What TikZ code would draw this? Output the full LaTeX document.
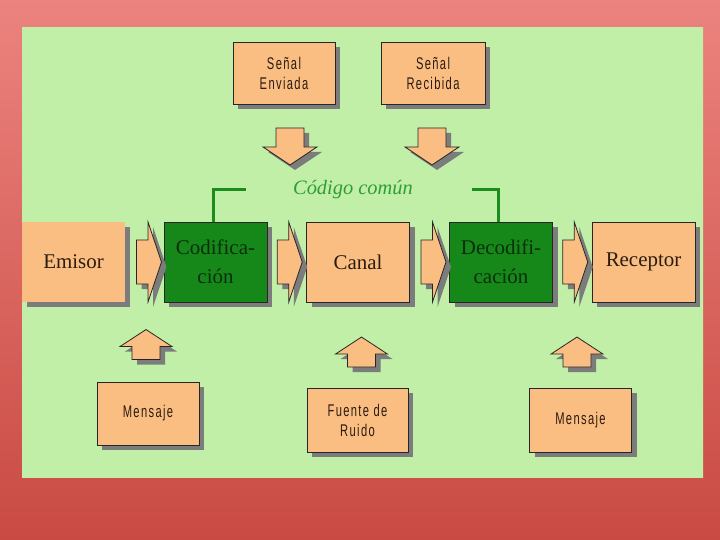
\documentclass[tikz,border=0pt]{standalone}
\usepackage{fontspec}
\setmainfont{Liberation Serif}
\newfontfamily\narrowsf[FakeStretch=0.66,LetterSpace=8]{Liberation Sans}
\usetikzlibrary{shadows,calc}
\definecolor{orng}{HTML}{FBBE82}
\definecolor{grnbox}{HTML}{16881A}
\definecolor{shd}{HTML}{7C7C7C}
\definecolor{txtgreen}{HTML}{2E9E33}
\definecolor{lingreen}{HTML}{1C8C1C}
\definecolor{darktxt}{HTML}{2A1C10}
\definecolor{darkgrntxt}{HTML}{0B2E0B}
\definecolor{redtop}{HTML}{EC837E}
\definecolor{redbot}{HTML}{C94A43}
\definecolor{pnledge}{HTML}{D2E8CC}
\definecolor{pnlmid}{HTML}{C2EFA8}
\pgfdeclarehorizontalshading{pnlshade}{100bp}{color(0bp)=(pnledge); color(12bp)=(pnlmid); color(88bp)=(pnlmid); color(100bp)=(pnledge)}
\begin{document}
\begin{tikzpicture}[x=1bp,y=-1bp,
  shad/.style={drop shadow={shadow xshift=5bp,shadow yshift=-5bp,fill=shd,opacity=1}},
  bigbox/.style={draw=black!85,line width=0.9bp,fill=orng,shad,minimum width=103bp,minimum height=80bp,
     inner sep=0pt,align=center,text=darktxt,font=\fontsize{21}{29}\selectfont},
  codebox/.style={bigbox,fill=grnbox,text=darkgrntxt},
  smallbox/.style={draw=black!85,line width=0.9bp,fill=orng,shad,minimum width=102bp,minimum height=63bp,
     inner sep=0pt,align=center,text=darktxt,font=\narrowsf\fontsize{17}{20}\selectfont},
  blockarrow/.style={draw=black!85,line width=0.8bp,fill=orng,shad,line join=miter},
  greenline/.style={draw=lingreen,line width=3bp},
  rblock/.pic={\draw[blockarrow] (-12.5,-22) -- (-1,-22) -- (-1,-40) -- (12.5,0) -- (-1,40) -- (-1,22) -- (-12.5,22) -- cycle;},
  dblock/.pic={\draw[blockarrow] (-14,-18.5) -- (14,-18.5) -- (14,0.5) -- (27,0.5) -- (0,18.5) -- (-27,0.5) -- (-14,0.5) -- cycle;},
  ublock/.pic={\draw[blockarrow] (0,-15) -- (26,2) -- (14,2) -- (14,15) -- (-14,15) -- (-14,2) -- (-26,2) -- cycle;}
]
\useasboundingbox (0,0) rectangle (720,540);
% background
\shade[top color=redtop,bottom color=redbot] (0,0) rectangle (720,540);
\shade[shading=pnlshade] (22,28) rectangle (703,477);

% top boxes
\node[smallbox,minimum width=102bp,minimum height=62bp] (env) at (284,73) {Señal\\Enviada};
\node[smallbox,minimum width=104bp,minimum height=62bp] (rec) at (433,73) {Señal\\Recibida};

% main row
\node[bigbox,draw=none] (emi) at (73.5,262) {Emisor};
\node[codebox] (cod) at (215.5,262) {Codifica-\\ción};
\node[bigbox] (can) at (358,262) {Canal};
\node[codebox] (dec) at (501,262) {Decodifi-\\cación};
\node[bigbox] (recp) at (643.5,262) {Receptor};

% bottom boxes
\node[smallbox] (men1) at (148,413.5) {Mensaje};
\node[smallbox,minimum width=101bp,minimum height=64bp] (fue) at (357.5,420) {Fuente de\\Ruido};
\node[smallbox,minimum height=64bp] (men2) at (580.5,420) {Mensaje};

% code label
\node[text=txtgreen,font=\itshape\fontsize{20.5}{24}\selectfont,inner sep=0pt] (codigo) at (353,190) {Código común};

% green brackets
\draw[greenline] ($(cod.north)+(-2.5,0)$) -- ++(0,-32) -- ++(33,0);
\draw[greenline] ($(dec.north)+(-3,0)$) -- ++(0,-32) -- ++(-26,0);

% horizontal block arrows
\pic at ($(emi.east)!0.5!(cod.west)+(4.5,0)$) {rblock};
\pic at ($(cod.east)!0.5!(can.west)+(3,0)$) {rblock};
\pic at ($(can.east)!0.5!(dec.west)+(4,0)$) {rblock};
\pic at ($(dec.east)!0.5!(recp.west)+(3,0)$) {rblock};

% down arrows
\pic at ($(env.south)+(6,42)$) {dblock};
\pic at ($(rec.south)+(-1,42)$) {dblock};

% up arrows
\pic at ($(men1.north)+(-2,-37)$) {ublock};
\pic at ($(fue.north)+(4,-35.5)$) {ublock};
\pic at ($(men2.north)+(-3.5,-35.5)$) {ublock};
\end{tikzpicture}
\end{document}
